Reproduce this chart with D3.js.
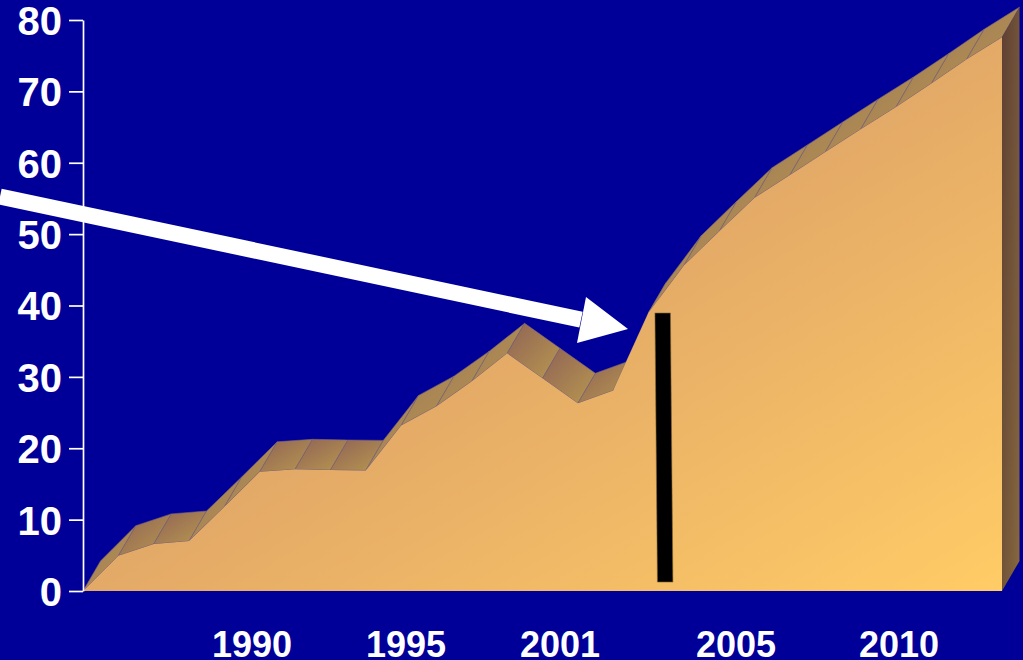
<!DOCTYPE html>
<html lang="en">

<head>
    <meta charset="UTF-8">
    <title>Area chart</title>
    <script src="https://d3js.org/d3.v7.min.js"></script>
    <style>
        html, body { margin: 0; padding: 0; background: #000099; overflow: hidden; }
        text { font-family: "Liberation Sans", Arial, sans-serif; font-weight: bold; fill: white; }
    </style>
</head>

<body>
    <script>

        // values, one per step along the x axis
        var values = [0, 4.95, 6.6, 7.0, 11.8, 16.7, 17.05, 16.95, 16.9, 23.2, 25.9, 29.4, 33.3, 29.8, 26.3, 28.1,
            39.0, 45.6, 50.4, 55.1, 58.3, 61.5, 64.7, 67.8, 71.1, 74.5, 77.6];
        var yTicks = [0, 10, 20, 30, 40, 50, 60, 70, 80];
        var xLabels = ["1990", "1995", "2001", "2005", "2010"];

        var width = 1023, height = 660;
        var depthX = 17.5, depthY = -30;

        var svg = d3.select("body").append("svg")
            .attr("width", width)
            .attr("height", height)
            .style("display", "block");

        var x = d3.scaleLinear().domain([0, values.length - 1]).range([83, 1002]);
        var y = d3.scaleLinear().domain([0, 80]).range([591, 20]);

        // year labels are not evenly placed in the original
        var labelX = d3.scaleOrdinal().domain(xLabels).range([252, 406, 560, 736, 899]);

        var defs = svg.append("defs");

        function gradient(id, x1, y1, x2, y2, from, to) {
            var g = defs.append("linearGradient").attr("id", id)
                .attr("x1", x1).attr("y1", y1).attr("x2", x2).attr("y2", y2);
            g.append("stop").attr("offset", 0).attr("stop-color", from);
            g.append("stop").attr("offset", 1).attr("stop-color", to);
        }

        gradient("front", 0.5, 0.5, 1, 1, "#E3A967", "#FFCC66");
        gradient("sideFlat", 0, 0, 1, 1, "#8F6356", "#B8974F");
        gradient("sideRise", 0, 0, 1, 1, "#A07C58", "#B4924F");
        gradient("right", 0, 0, 1, 1, "#5E3F33", "#86683F");

        var line = d3.line();

        // top faces, one for each step
        var segs = d3.pairs(values.map(function (d, i) { return [i, d]; }));

        svg.selectAll(".top")
            .data(segs)
            .enter()
                .append("path")
                .attr("class", "top")
                .attr("d", function (s) {
                    var a = [x(s[0][0]), y(s[0][1])], b = [x(s[1][0]), y(s[1][1])];
                    return line([a, b, [b[0] + depthX, b[1] + depthY], [a[0] + depthX, a[1] + depthY]]) + "Z";
                })
                .attr("fill", function (s) {
                    var rise = s[1][1] - s[0][1];
                    return rise > 2 ? "url(#sideRise)" : "url(#sideFlat)";
                })
                .attr("stroke", "#7A6478")
                .attr("stroke-width", 0.6);

        // right end face
        var last = values.length - 1;
        svg.append("path")
            .attr("d", line([
                [x(last), y(values[last])],
                [x(last) + depthX, y(values[last]) + depthY],
                [x(last) + depthX, y(0) + depthY],
                [x(last), y(0)]
            ]) + "Z")
            .attr("fill", "url(#right)");

        // front face
        var area = d3.area()
            .x(function (d, i) { return x(i); })
            .y0(y(0))
            .y1(function (d) { return y(d); });

        svg.append("path")
            .datum(values)
            .attr("d", area)
            .attr("fill", "url(#front)");

        // y axis
        var yAxis = svg.append("g")
            .attr("transform", "translate(" + x(0) + ",0)")
            .call(d3.axisLeft(y).tickValues(yTicks).tickSize(14).tickSizeOuter(0).tickPadding(7));

        yAxis.selectAll("path, line")
            .attr("stroke", "white")
            .attr("stroke-width", 1.7);

        yAxis.selectAll("text")
            .attr("font-size", 40)
            .attr("dy", "0.36em")
            .style("font-family", "Liberation Sans")
            .style("font-weight", "bold")
            .style("fill", "white");

        // year labels
        svg.selectAll(".year")
            .data(xLabels)
            .enter()
                .append("text")
                .attr("class", "year")
                .attr("x", function (d) { return labelX(d); })
                .attr("y", 657)
                .attr("text-anchor", "middle")
                .attr("font-size", 36)
                .text(function (d) { return d; });

        // black bar
        var barHalf = 7.75;
        var barTop = [x(16.4), y(38.95)], barBottom = [x(16.47), y(1.25)];
        svg.append("path")
            .attr("d", line([
                [barTop[0] - barHalf, barTop[1]],
                [barTop[0] + barHalf, barTop[1]],
                [barBottom[0] + barHalf, barBottom[1]],
                [barBottom[0] - barHalf, barBottom[1]]
            ]) + "Z")
            .attr("fill", "black")
            .attr("stroke", "#8A6A30")
            .attr("stroke-width", 0.6);

        // white arrow
        svg.append("path")
            .attr("d", line([[0, 196.5], [581, 319.7]]))
            .attr("stroke", "white")
            .attr("stroke-width", 16)
            .attr("fill", "none");

        svg.append("path")
            .attr("d", line([[586, 297], [628, 329], [577, 343]]) + "Z")
            .attr("fill", "white");

    </script>

</body>

</html>
